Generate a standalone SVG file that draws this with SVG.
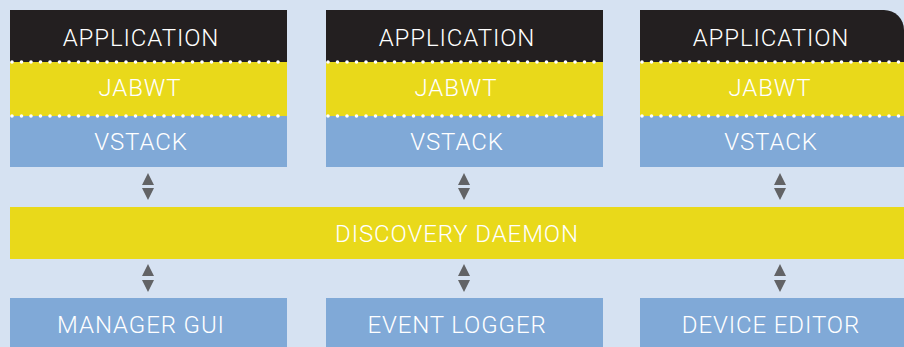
<svg xmlns="http://www.w3.org/2000/svg" width="904" height="347" viewBox="0 0 904 347">
<defs>
<style>
.bg{fill:#d6e2f2}
.blk{fill:#231f20}
.yel{fill:#e9d91a}
.blu{fill:#80a9d7}
.arr{fill:#626366}
.dot{stroke:#ffffff;stroke-width:3.6;stroke-linecap:round;stroke-dasharray:0 9.5;fill:none}
text{font-family:Roboto,"Open Sans","Liberation Sans",sans-serif;font-size:24px;fill:#ffffff;text-anchor:middle;font-weight:300;letter-spacing:0.9px}
</style>
</defs>
<rect class="bg" x="0" y="0" width="904" height="347"/>
<g id="stack1">
<rect class="blk" x="10" y="10" width="277" height="52"/>
<rect class="yel" x="10" y="62" width="277" height="54"/>
<rect class="blu" x="10" y="116" width="277" height="51"/>
<line class="dot" x1="12" y1="62" x2="287" y2="62"/>
<line class="dot" x1="12" y1="116" x2="287" y2="116"/>
<text x="141" y="46">APPLICATION</text>
<text x="140" y="96">JABWT</text>
<text x="141" y="150">VSTACK</text>
</g>
<g id="stack2">
<rect class="blk" x="326" y="10" width="277" height="52"/>
<rect class="yel" x="326" y="62" width="277" height="54"/>
<rect class="blu" x="326" y="116" width="277" height="51"/>
<line class="dot" x1="328" y1="62" x2="603" y2="62"/>
<line class="dot" x1="328" y1="116" x2="603" y2="116"/>
<text x="457" y="46">APPLICATION</text>
<text x="456" y="96">JABWT</text>
<text x="457" y="150">VSTACK</text>
</g>
<g id="stack3">
<path class="blk" d="M640 10 H884 A20 20 0 0 1 904 30 V62 H640 Z"/>
<rect class="yel" x="640" y="62" width="264" height="54"/>
<rect class="blu" x="640" y="116" width="264" height="51"/>
<line class="dot" x1="642" y1="62" x2="904" y2="62"/>
<line class="dot" x1="642" y1="116" x2="904" y2="116"/>
<text x="771" y="46">APPLICATION</text>
<text x="770" y="96">JABWT</text>
<text x="771" y="150">VSTACK</text>
</g>
<g id="daemon">
<rect class="yel" x="10" y="207" width="894" height="52"/>
<text x="457" y="242">DISCOVERY DAEMON</text>
</g>
<g id="manager">
<rect class="blu" x="10" y="298" width="277" height="49"/>
<text x="141" y="333">MANAGER GUI</text>
</g>
<g id="logger">
<rect class="blu" x="326" y="298" width="277" height="49"/>
<text x="457" y="333">EVENT LOGGER</text>
</g>
<g id="editor">
<rect class="blu" x="640" y="298" width="264" height="49"/>
<text x="771" y="333">DEVICE EDITOR</text>
</g>
<g id="connectors">
<g class="arr">
<path d="M148 173 L154 185 H142 Z M142 188 H154 L148 200 Z"/>
<path d="M148 264 L154 276 H142 Z M142 280 H154 L148 292 Z"/>
<path d="M464 173 L470 185 H458 Z M458 188 H470 L464 200 Z"/>
<path d="M464 264 L470 276 H458 Z M458 280 H470 L464 292 Z"/>
<path d="M780 173 L786 185 H774 Z M774 188 H786 L780 200 Z"/>
<path d="M780 264 L786 276 H774 Z M774 280 H786 L780 292 Z"/>
</g>
</g>
</svg>
